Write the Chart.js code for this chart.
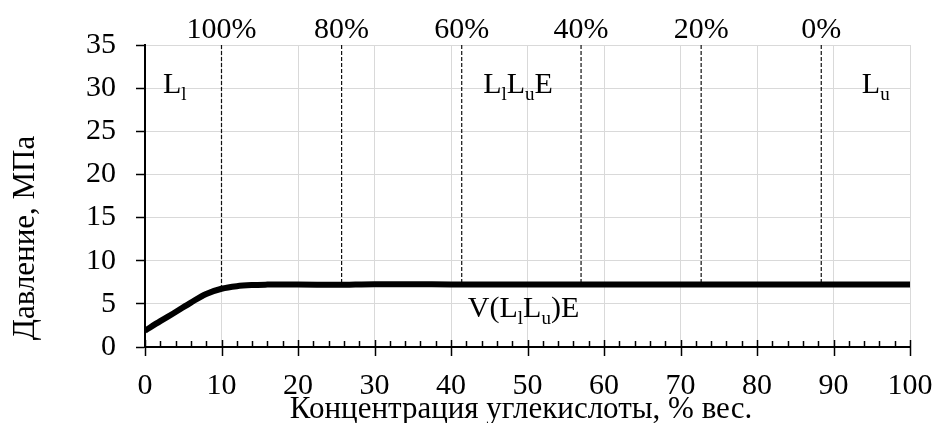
<!DOCTYPE html>
<html><head><meta charset="utf-8">
<script src="https://cdn.jsdelivr.net/npm/chart.js@4.4.0/dist/chart.umd.min.js"></script>
<style>html,body{margin:0;padding:0;background:#fff;}#wrap{width:936px;height:423px;}</style>
</head><body><div id="wrap"><canvas id="c" width="936" height="423"></canvas></div>
<script>
// ---- data ----
const concentration = [0, 2, 4, 6, 8, 10, 12, 14, 16, 18, 20, 25, 30, 35, 40, 50, 60, 70, 80, 90, 100];
const pressure      = [1.9, 3.0, 4.05, 5.15, 6.15, 6.75, 7.05, 7.18, 7.23, 7.25, 7.25, 7.2, 7.28, 7.28, 7.25, 7.25, 7.25, 7.25, 7.25, 7.25, 7.25];
const boundaryX      = [10, 25.7, 41.4, 57.0, 72.7, 88.4];
const boundaryTop    = [35, 35, 35, 35, 35, 35];
const boundaryBottom = [6.8, 7.22, 7.25, 7.25, 7.25, 7.25];
const boundaryLabels = ['100%', '80%', '60%', '40%', '20%', '0%'];
const xTickValues = [0, 10, 20, 30, 40, 50, 60, 70, 80, 90, 100];
const yTickValues = [0, 5, 10, 15, 20, 25, 30, 35];
const regionText = [
  [['L', 0], ['l', 1]],
  [['L', 0], ['l', 1], ['L', 0], ['u', 1], ['E', 0]],
  [['L', 0], ['u', 1]],
  [['V(L', 0], ['l', 1], ['L', 0], ['u', 1], [')E', 0]]
];
const regionX = [2.35, 44.2, 93.7, 42.2];
const regionY = [29.4, 29.4, 29.4, 3.45];
const xTitle = 'Концентрация углекислоты, % вес.';
const yTitle = 'Давление, МПа';

// ---- styling ----
const FONT = "'Liberation Serif', 'Times New Roman', serif";
const FS = 30;
const TFS = 31;

const datasets = [{
  data: concentration.map((x, i) => ({x, y: pressure[i]})),
  borderColor: '#000', borderWidth: 6, pointRadius: 0,
  cubicInterpolationMode: 'monotone', fill: false, order: 0
}];
boundaryX.forEach((bx, i) => {
  datasets.push({
    data: [{x: bx, y: boundaryTop[i]}, {x: bx, y: boundaryBottom[i]}],
    borderColor: '#111', borderWidth: 1.2, borderDash: [4, 2], pointRadius: 0, fill: false, order: 1
  });
});

const decor = {
  id: 'decor',
  afterDraw(chart) {
    const ctx = chart.ctx, xs = chart.scales.x, ys = chart.scales.y;
    const ca = chart.chartArea;
    ctx.save();
    ctx.strokeStyle = '#000'; ctx.lineWidth = 1.5;
    for (let v = 0; v <= 100; v += 2) {
      const px = Math.round(xs.getPixelForValue(v)) + 0.5;
      ctx.beginPath();
      if (v % 10 === 0) { ctx.moveTo(px, ca.bottom - 7); ctx.lineTo(px, ca.bottom + 9); }
      else { ctx.moveTo(px, ca.bottom - 6); ctx.lineTo(px, ca.bottom); }
      ctx.stroke();
    }
    ctx.fillStyle = '#000'; ctx.textBaseline = 'alphabetic'; ctx.textAlign = 'left';
    regionText.forEach((parts, i) => {
      let px = xs.getPixelForValue(regionX[i]);
      const py = ys.getPixelForValue(regionY[i]);
      parts.forEach(([t, sub]) => {
        ctx.font = (sub ? 19 : FS) + 'px ' + FONT;
        ctx.fillText(t, px, py + (sub ? 7 : 0));
        px += ctx.measureText(t).width;
      });
    });
    ctx.font = TFS + 'px ' + FONT;
    ctx.textAlign = 'center'; ctx.textBaseline = 'middle';
    ctx.fillText(xTitle, 521, 410);
    ctx.translate(26, 238); ctx.rotate(-Math.PI / 2);
    ctx.fillText(yTitle, 0, 0);
    ctx.restore();
  }
};

new Chart(document.getElementById('c'), {
  type: 'line',
  data: { datasets },
  options: {
    responsive: false, animation: false, devicePixelRatio: 1,
    layout: { padding: { left: 0, right: 26, top: 0, bottom: 0 } },
    plugins: { legend: { display: false }, tooltip: { enabled: false } },
    scales: {
      x: {
        type: 'linear', min: 0, max: 100,
        afterBuildTicks: s => { s.ticks = xTickValues.map(v => ({value: v})); },
        afterFit: s => { s.height = 76; s.paddingLeft = 0; s.paddingRight = 0; },
        border: { color: '#000', width: 2 },
        grid: { color: '#d9d9d9', lineWidth: 1, drawTicks: false },
        ticks: { color: '#000', font: { family: FONT, size: FS }, padding: 21, maxRotation: 0 }
      },
      x2: {
        type: 'linear', position: 'top', min: 0, max: 100,
        afterBuildTicks: s => { s.ticks = boundaryX.map(v => ({value: v})); },
        afterFit: s => { s.height = 45; s.paddingLeft = 0; s.paddingRight = 0; },
        border: { display: false },
        grid: { display: false, drawTicks: false },
        ticks: { color: '#000', font: { family: FONT, size: FS }, padding: -3, maxRotation: 0,
                 callback: (v, i) => boundaryLabels[i] }
      },
      y: {
        type: 'linear', min: 0, max: 35,
        afterBuildTicks: s => { s.ticks = yTickValues.map(v => ({value: v})); },
        afterFit: s => { s.width = 145; },
        border: { color: '#000', width: 2 },
        grid: { color: '#d9d9d9', lineWidth: 1, tickColor: '#000', tickLength: 9, tickWidth: 1.5 },
        ticks: { color: '#000', font: { family: FONT, size: FS }, padding: 20 }
      }
    }
  },
  plugins: [decor]
});
</script></body></html>
